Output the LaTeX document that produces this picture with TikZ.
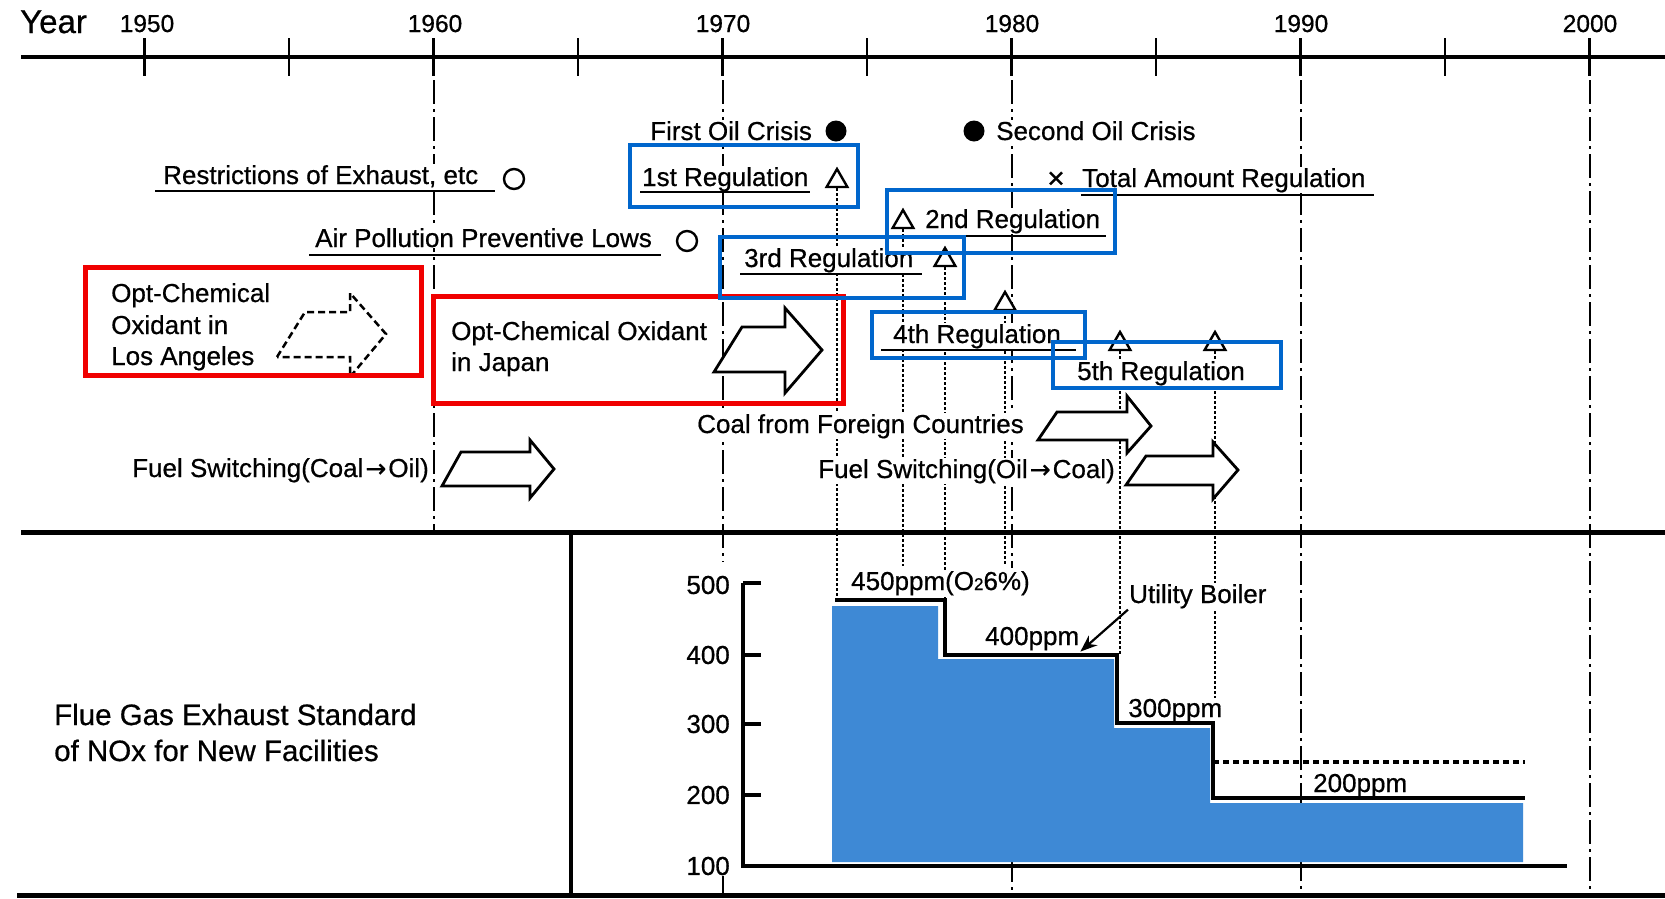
\documentclass[tikz,border=0pt]{standalone}
\usepackage{fontspec}
\setmainfont{Liberation Sans}[FakeBold=0.6]
\newfontfamily\arrowfont{DejaVu Sans}[FakeBold=0.6]
\usetikzlibrary{arrows.meta,shapes.geometric}
\definecolor{regblue}{RGB}{0,102,204}
\definecolor{oxred}{RGB}{240,0,0}
\definecolor{chartblue}{RGB}{62,137,213}
\newcommand{\toarrow}{\kern2pt{\arrowfont\fontsize{25}{28}\selectfont →}\kern2pt}
\tikzset{
  txt/.style={font=\fontsize{26}{30}\selectfont, inner sep=1pt, fill=white, anchor=base west},
  yrlbl/.style={font=\fontsize{24.5}{28}\selectfont, inner sep=0pt, anchor=base},
  ticklbl/.style={font=\fontsize{26}{30}\selectfont, inner sep=1pt, fill=white, anchor=east},
  yrline/.style={line width=2pt, dash pattern=on 24pt off 5pt on 3pt off 5pt},
  regdot/.style={line width=2.4pt, dash pattern=on 2.5pt off 2.5pt},
  uline/.style={line width=2.4pt},
  heavy/.style={line width=5pt},
  regbox/.style={draw=regblue, line width=4pt},
  oxbox/.style={draw=oxred, line width=5pt},
  blockarrow/.style={draw, fill=white, line width=2.8pt, line join=miter},
  tri/.style={draw, fill=white, regular polygon, regular polygon sides=3, minimum size=24pt, inner sep=0pt, line width=2.4pt},
  opencirc/.style={draw, circle, minimum size=20pt, inner sep=0pt, line width=2.4pt},
  crisisdot/.style={fill, circle, minimum size=21pt, inner sep=0pt},
  chartline/.style={line width=3.5pt},
}
\begin{document}
\begin{tikzpicture}[x=1pt,y=-1pt]
\useasboundingbox[fill=white] (0,0) rectangle (1665,898);

% ---- time axis
\coordinate (axL) at (21,57);
\coordinate (axR) at (1665,57);
\draw[line width=3.5pt] (axL) -- (axR);
\foreach \i in {0,...,10} \draw[line width=2.8pt] (144.5+144.5*\i,38) -- (144.5+144.5*\i,76);
\node[font=\fontsize{33}{36}\selectfont, inner sep=0pt, anchor=base west] (yearlbl) at (20,33) {Year};
\foreach \yr/\xx in {1950/147,1960/435,1970/723,1980/1012,1990/1301,2000/1590}
  \node[yrlbl] (y\yr) at (\xx,32) {\yr};

% ---- year guide lines
\draw[yrline] (433.5,80) -- (433.5,530);
\draw[yrline] (722.5,80) -- (722.5,562);
\draw[yrline] (722.5,872) -- (722.5,895);
\draw[yrline] (1011.5,80) -- (1011.5,568);
\draw[yrline] (1011.5,858) -- (1011.5,895);
\draw[yrline] (1300.5,80) -- (1300.5,895);
\draw[yrline] (1589.5,80) -- (1589.5,895);

% ---- regulation markers and their dotted lines
\node[tri] (t1) at (837,181) {};
\node[tri] (t2) at (903,222) {};
\node[tri] (t3) at (945,260) {};
\node[tri] (t4) at (1005,304) {};
\node[tri] (t5a) at (1120,344) {};
\node[tri] (t5b) at (1215,344) {};
\coordinate (s450) at (835,600);
\coordinate (s450r) at (945,600);
\coordinate (s400r) at (1117,655);
\coordinate (s300r) at (1213,723);
\coordinate (s200r) at (1525,798);
\coordinate (e2) at (903,566);
\draw[regdot] (t1.south) -- (t1.south |- s450);
\draw[regdot] (t2.south) -- (t2.south |- e2);
\draw[regdot] (t3.south) -- (t3.south |- s450);
\draw[regdot] (t4.south) -- (t4.south |- e2);
\draw[regdot] (t5a.south) -- (t5a.south |- s400r);
\draw[regdot] (t5b.south) -- (t5b.south |- s300r);

% ---- block arrows
\draw[blockarrow, line width=2.5pt, dash pattern=on 7pt off 4pt] (277,357) -- (305,312) -- (350,312) -- (350,293) -- (386,334) -- (350,377) -- (350,357) -- cycle;
\draw[blockarrow] (714,372) -- (742,327) -- (785,327) -- (785,308) -- (822,350) -- (785,393) -- (785,372) -- cycle;
\draw[blockarrow] (442,486) -- (461,452) -- (530,452) -- (530,440) -- (554,469) -- (530,498) -- (530,486) -- cycle;
\draw[blockarrow] (1038,440) -- (1057,412) -- (1127,412) -- (1127,396) -- (1151,426) -- (1127,453) -- (1127,440) -- cycle;
\draw[blockarrow] (1126,485) -- (1146,456) -- (1213,456) -- (1213,442) -- (1238,470) -- (1213,499) -- (1213,485) -- cycle;

% ---- texts
\node[txt] (foc) at (649,140) {First Oil Crisis};
\node[txt] (soc) at (995,140) {Second Oil Crisis};
\node[txt] (restr) at (162,184) {Restrictions of Exhaust, etc};
\node[txt] (apl) at (314,247) {Air Pollution Preventive Lows};
\node[txt] (reg1) at (641,186) {1st Regulation};
\node[txt] (reg2) at (924,228) {2nd Regulation};
\node[txt] (reg3) at (743,267) {3rd Regulation};
\node[txt] (reg4) at (892,343) {4th Regulation};
\node[txt] (reg5) at (1076,380) {5th Regulation};
\node[txt] (total) at (1081,187) {Total Amount Regulation};
\node[txt] (la1) at (110,302) {Opt-Chemical};
\node[txt] (la2) at (110,334) {Oxidant in};
\node[txt] (la3) at (110,365) {Los Angeles};
\node[txt] (jp1) at (450,340) {Opt-Chemical Oxidant};
\node[txt] (jp2) at (450,371) {in Japan};
\node[txt] (coalfc) at (696,433) {Coal from Foreign Countries};
\node[txt] (fs1) at (131,477) {Fuel Switching(Coal\toarrow Oil)};
\node[txt, anchor=base east] (fs2) at (1116,478) {Fuel Switching(Oil\toarrow Coal)};
\node[txt, font=\fontsize{29.5}{33}\selectfont] (flue1) at (53,725) {Flue Gas Exhaust Standard};
\node[txt, font=\fontsize{29.5}{33}\selectfont] (flue2) at (53,761) {of NOx for New Facilities};

% ---- underlines and event marks
\draw[uline] (155,191) -- (495,191);
\draw[uline] (309,255) -- (661,255);
\draw[uline] (640,192) -- (810,192);
\draw[uline] (924,236) -- (1106,236);
\draw[uline] (740,274) -- (922,274);
\draw[uline] (881,350) -- (1076,350);
\draw[uline] (1081,195) -- (1374,195);
\node[opencirc] (c1) at (514,179) {};
\node[opencirc] (c2) at (687,241) {};
\node[crisisdot] (d1) at (836,131) {};
\node[crisisdot] (d2) at (974,131) {};
\node[txt, anchor=center, inner sep=0pt, font=\fontsize{30}{32}\selectfont] (xm) at (1056,180) {×};

% ---- middle and bottom frame lines
\draw[heavy] (21,532) -- (1665,532);
\draw[line width=4pt] (571,532) -- (571,898);
\draw[heavy] (17,895.5) -- (1665,895.5);

% ---- NOx chart
\node[ticklbl] (v500) at (731,585) {500};
\node[ticklbl] (v400) at (731,655) {400};
\node[ticklbl] (v300) at (731,724) {300};
\node[ticklbl] (v200) at (731,795) {200};
\node[ticklbl] (v100) at (731,866) {100};
\node[txt] (p450) at (850,590) {450ppm(O{\fontsize{17}{17}\selectfont 2}6\%)};
\node[txt] (p400) at (984,645) {400ppm};
\node[txt] (p300) at (1127,717) {300ppm};
\node[txt] (p200) at (1312,792) {200ppm};
\node[txt] (ub) at (1128,603) {Utility Boiler};
\fill[chartblue] (832,606) -- (938,606) -- (938,659) -- (1114,659) -- (1114,728) -- (1210,728) -- (1210,803) -- (1523,803) -- (1523,862) -- (832,862) -- cycle;
\draw[chartline] (743,583) -- (743,866) -- (1567,866);
\foreach \yy in {583,655,724,795} \draw[chartline] (743,\yy) -- (761,\yy);
\draw[chartline, line join=miter] (s450) -- (s450r) -- (945,655) -- (s400r) -- (1117,723) -- (s300r) -- (1213,798) -- (s200r);
\draw[line width=4.5pt, dash pattern=on 6pt off 4pt] (1213,762) -- (1525,762);
\draw[line width=2.2pt, -{Stealth[length=17pt,width=13pt]}] (ub.south west) -- (p400.south east);

% ---- highlight boxes
\draw[oxbox] (85,267) rectangle (421,375);
\draw[oxbox] (433,296) rectangle (843,403);
\draw[regbox] (630,145) rectangle (858,207);
\draw[regbox] (887,190) rectangle (1115,253);
\draw[regbox] (720,237) rectangle (964,298);
\draw[regbox] (872,312) rectangle (1085,358);
\draw[regbox] (1053,342) rectangle (1281,388);
\end{tikzpicture}
\end{document}
